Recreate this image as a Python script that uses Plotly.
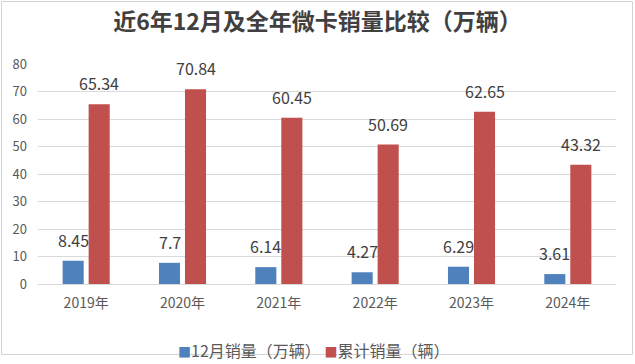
import plotly.graph_objects as go

categories = ["2019年", "2020年", "2021年", "2022年", "2023年", "2024年"]
dec_sales = [8.45, 7.7, 6.14, 4.27, 6.29, 3.61]
total_sales = [65.34, 70.84, 60.45, 50.69, 62.65, 43.32]
series_names = ["12月销量（万辆）", "累计销量（辆）"]
title_text = "近6年12月及全年微卡销量比较（万辆）"
y_ticks = [0, 10, 20, 30, 40, 50, 60, 70, 80]

BLUE = "#4F81BD"
RED = "#C0504D"
FONT = "Noto Sans CJK SC"
TXT = "#595959"

W, H = 635, 364
L, R, T, B = 38, 19, 64, 80

fig = go.Figure()
fig.add_trace(go.Bar(x=categories, y=dec_sales, name=series_names[0],
                     marker=dict(color=BLUE, line=dict(width=0))))
fig.add_trace(go.Bar(x=categories, y=total_sales, name=series_names[1],
                     marker=dict(color=RED, line=dict(width=0))))

annotations = []
for vals, xs in ((dec_sales, -13), (total_sales, 13)):
    for c, v in zip(categories, vals):
        annotations.append(dict(x=c, y=v, text=f"{v:g}", showarrow=False,
                                xref="x", yref="y", yanchor="bottom",
                                xshift=xs, yshift=7,
                                font=dict(family=FONT, size=16, color="#404040")))

pw = W - L - R
ph = H - T - B


def px_x(p):
    return (p - L) / pw


def px_y(p):
    return (T + ph - p) / ph


# legend drawn as one text line with coloured square markers
sq = "<span style='font-size:13px;color:{c}'>■</span>"
legend_text = (sq.format(c=BLUE) + series_names[0] + " "
               + sq.format(c=RED) + series_names[1])
annotations.append(dict(text=legend_text, showarrow=False,
                        xref="paper", yref="paper",
                        x=px_x(313), y=px_y(350), xanchor="center", yanchor="middle",
                        font=dict(family=FONT, size=16, color=TXT)))

shapes = [dict(type="rect", xref="paper", yref="paper",
               x0=px_x(1.5), x1=px_x(632.5), y0=px_y(354.5), y1=px_y(1.5),
               line=dict(color="#d4d4d4", width=1), layer="above")]

fig.update_layout(
    width=W, height=H,
    margin=dict(l=L, r=R, t=T, b=B, pad=0, autoexpand=False),
    paper_bgcolor="white", plot_bgcolor="white",
    barmode="group", bargap=0.46, bargroupgap=0.19,
    title=dict(text=title_text, x=0.5, xref="container", xanchor="center",
               y=1 - 22 / H, yref="container", yanchor="middle",
               font=dict(family=FONT, size=23, color="#404040", weight="bold")),
    font=dict(family=FONT, color=TXT),
    showlegend=False,
    xaxis=dict(showgrid=False, showline=True, linecolor="#d9d9d9", linewidth=1,
               ticks="", tickfont=dict(family=FONT, size=14, color=TXT),
               ticklabelstandoff=6, automargin=False),
    yaxis=dict(range=[0, 80], tickvals=y_ticks, showgrid=True, gridcolor="#d9d9d9",
               gridwidth=1, zeroline=False, showline=False, ticks="",
               tickfont=dict(family=FONT, size=13, color=TXT),
               ticklabelstandoff=10, automargin=False),
    annotations=annotations,
    shapes=shapes,
)

fig.write_html("out.html", config={"displayModeBar": False},
               post_script="document.body.style.margin='0';document.body.style.overflow='hidden';")
